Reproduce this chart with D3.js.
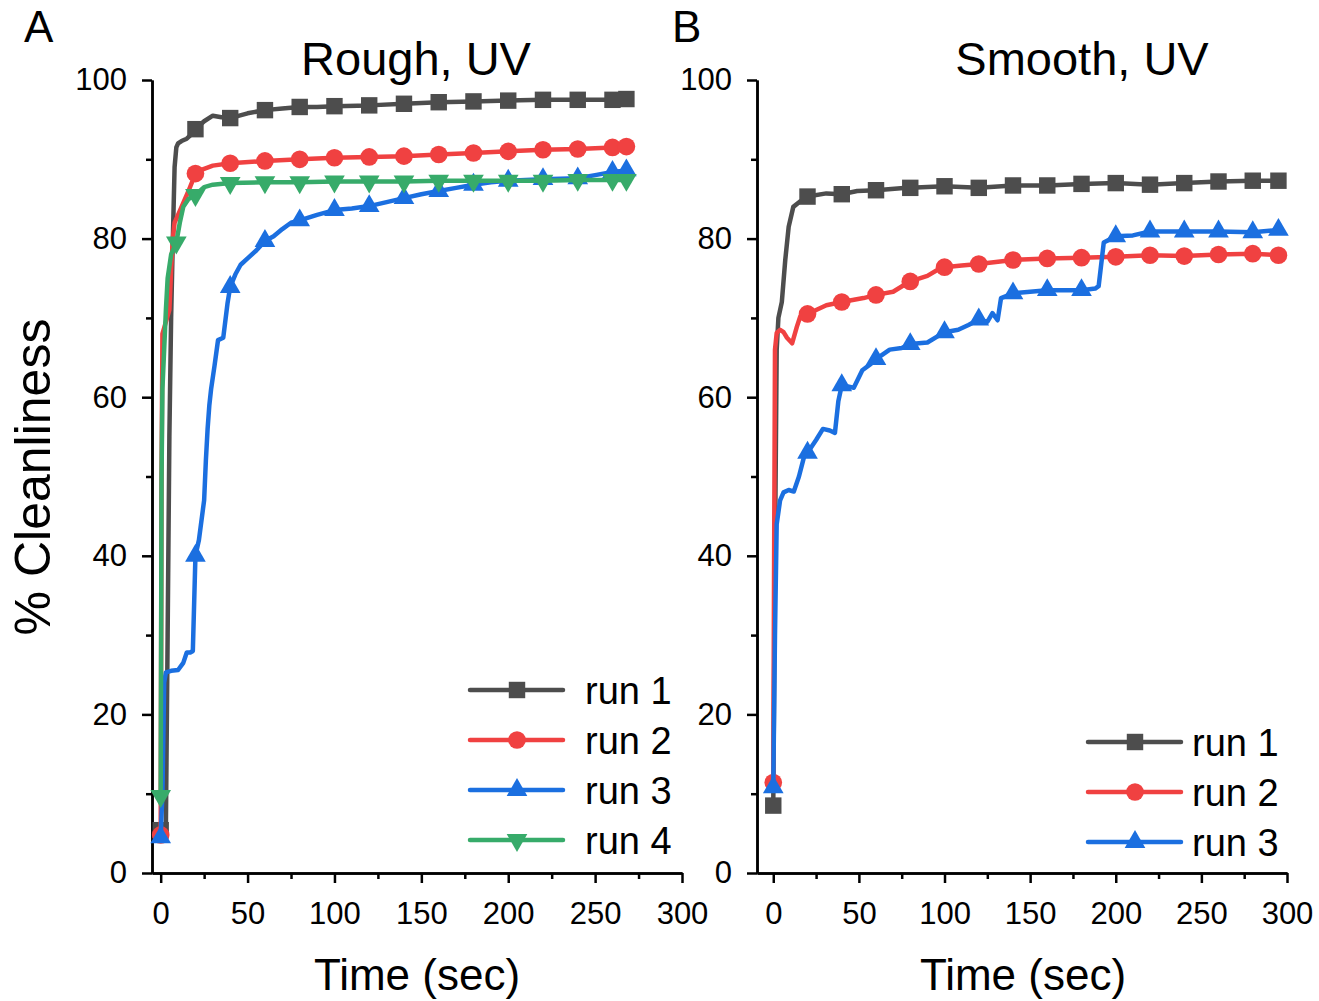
<!DOCTYPE html>
<html>
<head>
<meta charset="utf-8">
<script src="https://cdn.jsdelivr.net/npm/d3@7"></script>
<style>
  body { margin: 0; background: #fff; }
  text { font-family: "Liberation Sans", Arial, sans-serif; fill: #000; }
</style>
</head>
<body>
<svg width="1319" height="1001"></svg>
<script>
// Panel A - rough surface
const roughRun1T = [0, 3, 4, 5, 6, 7, 8, 9, 10, 12, 15, 18, 20, 25, 30, 35, 40, 50, 60, 70, 80, 90, 100, 120, 140, 160, 180, 200, 220, 240, 260, 268];
const roughRun1V = [5.4, 6, 30, 55, 70, 80, 89, 91.5, 92, 92.3, 92.6, 93.2, 93.8, 94.8, 95.5, 95.3, 95.2, 95.8, 96.2, 96.4, 96.6, 96.6, 96.7, 96.8, 97.0, 97.2, 97.3, 97.4, 97.5, 97.5, 97.5, 97.6];

const roughRun2T = [0, 0.5, 1, 3, 5, 6, 7, 8, 10, 13, 16, 20, 25, 30, 40, 60, 80, 100, 120, 140, 160, 180, 200, 220, 240, 260, 268];
const roughRun2V = [4.8, 50, 68, 69.5, 71, 76, 80, 82, 83, 84.5, 86, 88.2, 88.8, 89.2, 89.5, 89.8, 90.0, 90.2, 90.3, 90.4, 90.6, 90.8, 91.0, 91.2, 91.3, 91.5, 91.6];

const roughRun3T = [0, 1, 2, 3, 6, 10, 13, 15, 17, 18.5, 20, 22, 25, 26, 27, 28, 29, 31, 33, 36, 38.5, 40, 43, 46, 50, 55, 60, 65, 70, 75, 80, 90, 100, 110, 120, 130, 140, 150, 160, 170, 180, 190, 200, 220, 240, 250, 260, 268];
const roughRun3V = [4.5, 10, 24, 25.3, 25.5, 25.6, 26.5, 27.8, 27.8, 28, 40, 42, 47, 52, 56, 59, 61, 64, 67.2, 67.5, 71.9, 73.9, 75.5, 76.7, 77.5, 78.5, 79.7, 80.3, 81.2, 82, 82.3, 83, 83.6, 83.8, 84.1, 84.6, 85.1, 85.6, 86, 86.4, 86.8, 87.1, 87.3, 87.5, 87.6, 88, 88.4, 88.6];

const roughRun4T = [0, 0.5, 1, 2, 3, 4, 6, 9, 11, 13, 16, 20, 25, 30, 40, 60, 80, 100, 120, 140, 160, 180, 200, 220, 240, 260, 268];
const roughRun4V = [9.7, 50, 61, 66, 71, 75, 78, 79.5, 82, 84, 85, 85.5, 86.5, 86.8, 87, 87.1, 87.1, 87.2, 87.2, 87.2, 87.3, 87.3, 87.3, 87.3, 87.4, 87.4, 87.4];

// Panel B - smooth surface
const smoothRun1T = [0, 1, 2, 3, 5, 7, 9, 11.7, 15.8, 20, 31, 40, 49, 60, 78, 80, 100, 120, 140, 160, 180, 200, 220, 240, 260, 280, 295];
const smoothRun1V = [8.5, 40, 66, 70, 72, 77.3, 81.5, 84, 84.7, 85.3, 85.7, 85.6, 86, 86.1, 86.4, 86.4, 86.6, 86.4, 86.7, 86.7, 86.9, 87.0, 86.8, 87.0, 87.2, 87.3, 87.3];

const smoothRun2T = [0, 0.5, 1, 2, 4, 6, 8, 11, 13.8, 15.8, 20, 31, 40, 52.7, 60, 70, 79, 80, 90, 97, 100, 110, 120, 140, 160, 180, 200, 220, 240, 260, 280, 295];
const smoothRun2V = [11.4, 40, 66, 68.1, 68.5, 68.2, 67.5, 66.8, 68.9, 70.2, 70.5, 71.6, 72.0, 72.5, 72.9, 73.3, 74.5, 74.6, 75.3, 76.2, 76.4, 76.6, 76.8, 77.3, 77.5, 77.6, 77.7, 77.9, 77.8, 78.0, 78.1, 77.9];

const smoothRun3T = [0, 1, 2, 4, 6, 9, 12, 15, 18, 20, 25, 29, 33, 36, 38, 40, 47, 52, 57, 60, 68, 75, 80, 90, 100, 108, 114, 120, 125, 128, 131, 133, 140, 150, 160, 175, 180, 188, 190, 193, 200, 210, 220, 240, 260, 280, 295];
const smoothRun3V = [10.8, 30, 44, 47, 48, 48.3, 48.1, 50, 52.5, 53, 54.6, 56, 55.8, 55.5, 59.5, 61.5, 61.2, 63.4, 64.2, 64.8, 66, 66.2, 66.7, 66.9, 68.2, 68.5, 69.1, 69.8, 69.5, 70.6, 69.7, 72.5, 73.1, 73.3, 73.5, 73.5, 73.5, 73.7, 74, 79.5, 80.3, 80.4, 80.9, 80.9, 80.9, 80.8, 81.1];

const roughMarkT = [0, 20, 40, 60, 80, 100, 120, 140, 160, 180, 200, 220, 240, 260, 268];
const smoothMarkT = [0, 20, 40, 60, 80, 100, 120, 140, 160, 180, 200, 220, 240, 260, 280, 295];

const runNames = ["run 1", "run 2", "run 3", "run 4"];
const runColors = ["#4d4d4d", "#f04141", "#1b6fe0", "#37ab6a"];
const runSymbols = ["square", "circle", "up", "down"];

const yTicks = [0, 20, 40, 60, 80, 100];
const yMinor = [10, 30, 50, 70, 90];
const xTicks = [0, 50, 100, 150, 200, 250, 300];
const xMinor = [25, 75, 125, 175, 225, 275];

const svg = d3.select("svg");
svg.append("rect").attr("width", 1319).attr("height", 1001).attr("fill", "#fff");

const y = d3.scaleLinear().domain([0, 100]).range([873, 80]);

function symbolPath(kind) {
    if (kind == "square") return d3.symbol(d3.symbolSquare, 270)();
    if (kind == "circle") return d3.symbol(d3.symbolCircle, 245)();
    return d3.symbol(d3.symbolTriangle, 185)();
}

function addMarker(g, kind, color, px, py) {
    g.append("path")
        .attr("d", symbolPath(kind))
        .attr("fill", color)
        .attr("transform", "translate(" + px + "," + py + ")" + (kind == "down" ? " rotate(180)" : ""));
}

function drawPanel(p) {
    const x = d3.scaleLinear().domain(p.xDomain).range(p.xRange);
    const g = svg.append("g");

    // axes: major + minor
    const styleAxis = a => {
        a.selectAll("path, line").attr("stroke", "#000").attr("stroke-width", 2.5);
        a.selectAll("text").attr("font-size", 31).attr("font-family", "Liberation Sans, Arial, sans-serif").attr("fill", "#000");
    };
    g.append("g").attr("transform", "translate(" + p.xRange[0] + ",0)")
        .call(d3.axisLeft(y).tickValues(yTicks).tickSize(10).tickSizeOuter(0).tickPadding(15))
        .call(styleAxis);
    g.append("g").attr("transform", "translate(" + p.xRange[0] + ",0)")
        .call(d3.axisLeft(y).tickValues(yMinor).tickSize(6).tickSizeOuter(0).tickFormat(""))
        .call(styleAxis);
    g.append("g").attr("transform", "translate(0,873)")
        .call(d3.axisBottom(x).tickValues(xTicks).tickSize(10).tickSizeOuter(0).tickPadding(19))
        .call(styleAxis);
    g.append("g").attr("transform", "translate(0,873)")
        .call(d3.axisBottom(x).tickValues(xMinor).tickSize(6).tickSizeOuter(0).tickFormat(""))
        .call(styleAxis);

    // lines and markers
    const line = d3.line().x(d => x(d[0])).y(d => y(d[1]));
    p.series.forEach((s, i) => {
        const pts = s.t.map((t, j) => [t, s.v[j]]);
        g.append("path").datum(pts)
            .attr("d", line)
            .attr("fill", "none")
            .attr("stroke", runColors[i])
            .attr("stroke-width", 4.5)
            .attr("stroke-linejoin", "round")
            .attr("stroke-linecap", "round");
        const marks = s.marks || p.marks;
        pts.filter(d => marks.includes(d[0])).forEach(d => addMarker(g, runSymbols[i], runColors[i], x(d[0]), y(d[1])));
    });

    // legend
    p.series.forEach((s, i) => {
        const ly = p.legend.y + i * 50;
        g.append("line").attr("x1", p.legend.x).attr("x2", p.legend.x + 93)
            .attr("y1", ly).attr("y2", ly)
            .attr("stroke", runColors[i]).attr("stroke-width", 4.5).attr("stroke-linecap", "round");
        addMarker(g, runSymbols[i], runColors[i], p.legend.x + 47, ly);
        g.append("text").attr("x", p.legend.textX).attr("y", ly).attr("dy", "0.36em")
            .attr("font-size", 38).text(runNames[i]);
    });

    // texts
    g.append("text").attr("x", p.titleX).attr("y", 75).attr("text-anchor", "middle")
        .attr("font-size", 47).text(p.title);
    g.append("text").attr("x", p.letterX).attr("y", 42).attr("font-size", 44).text(p.letter);
    g.append("text").attr("x", p.xLabelX).attr("y", 990).attr("text-anchor", "middle")
        .attr("font-size", 44).text("Time (sec)");
}

drawPanel({
    xDomain: [-5, 300], xRange: [152, 682],
    series: [
        { t: roughRun1T, v: roughRun1V },
        { t: roughRun2T, v: roughRun2V },
        { t: roughRun3T, v: roughRun3V },
        { t: roughRun4T, v: roughRun4V, marks: roughMarkT.concat([9]) }
    ],
    marks: roughMarkT,
    legend: { x: 470, y: 690, textX: 585 },
    title: "Rough, UV", titleX: 416,
    letter: "A", letterX: 24,
    xLabelX: 417
});

drawPanel({
    xDomain: [-9.5, 300], xRange: [757, 1287],
    series: [
        { t: smoothRun1T, v: smoothRun1V },
        { t: smoothRun2T, v: smoothRun2V },
        { t: smoothRun3T, v: smoothRun3V }
    ],
    marks: smoothMarkT,
    legend: { x: 1088, y: 742, textX: 1192 },
    title: "Smooth, UV", titleX: 1082,
    letter: "B", letterX: 672,
    xLabelX: 1023
});

// shared y label
svg.append("text")
    .attr("transform", "translate(50,477) rotate(-90)")
    .attr("text-anchor", "middle")
    .attr("font-size", 50)
    .text("% Cleanliness");
</script>
</body>
</html>
